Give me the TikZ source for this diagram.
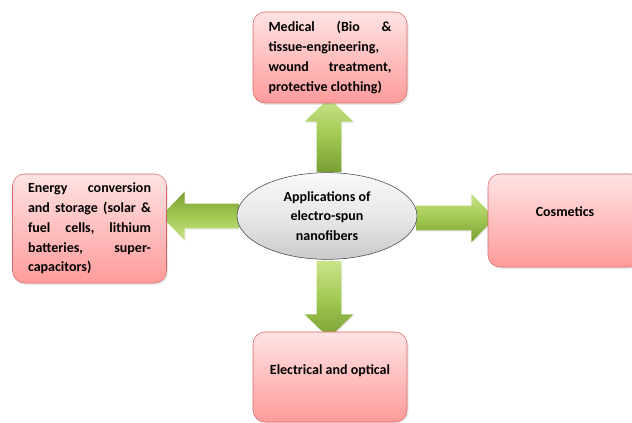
\documentclass[tikz,border=0pt]{standalone}
\usepackage{fontspec}
\setmainfont{Carlito}
\usepackage{xcolor}
\definecolor{pinktop}{HTML}{FFE3E3}
\definecolor{pinkbot}{HTML}{FF9B9B}
\definecolor{pinkline}{HTML}{D66866}
\definecolor{greenlight}{HTML}{C9E48C}
\definecolor{greenmid}{HTML}{A2C952}
\definecolor{greendark}{HTML}{789F33}
\usepackage{tikz}
\usetikzlibrary{shapes.geometric,shapes.arrows,shadows}
\tikzset{
    appbox/.style={
    rectangle,rounded corners=9pt,draw=pinkline,thin,top color=pinktop,bottom color=pinkbot,middle color=pinktop!50!pinkbot,
    minimum width=115.5pt,inner xsep=11.25pt,inner ysep=0pt,
    drop shadow={opacity=0.18,shadow xshift=1.2pt,shadow yshift=-1.5pt}
    },
    hub/.style={
    ellipse,draw=black!75,top color=gray!5,bottom color=gray!42,middle color=gray!18,
    minimum width=135pt,minimum height=65pt,inner sep=0pt,align=center
    },
    bigarrow/.style={
    single arrow,top color=greenlight,bottom color=greendark,middle color=greenmid,
    inner xsep=0pt,inner ysep=9pt,minimum width=0pt,
    single arrow head extend=9pt,single arrow tip angle=92,
    drop shadow={opacity=0.15,shadow xshift=0.8pt,shadow yshift=-1pt}
    },
  txt/.style={font=\fontsize{10.5}{14.8}\selectfont\bfseries},
}

\begin{document}
\begin{tikzpicture}[x=0.75pt,y=-0.75pt]
\useasboundingbox (0,0) rectangle (632,423);
% arrows first, their tails go under the ellipse
  \node[bigarrow,rotate=90,minimum height=55.5pt] (amed) at (329,141) {};
  \node[bigarrow,rotate=-90,minimum height=57.75pt] (aelec) at (329,293.5) {};
  \node[bigarrow,rotate=180,top color=greendark,bottom color=greenlight,middle color=greenmid,minimum height=58.5pt] (aener) at (206,216) {};
  \node[bigarrow,minimum height=59.25pt] (acos) at (449.5,218) {};

  \node[hub,txt] (app) at (327,216) {Applications of\\electro-spun\\nanofibers};

  \node[appbox,txt,align=justify,text width=92.25pt,minimum height=68.25pt] (med) at (330,57.5)
    {Medical~(Bio~\&\linebreak tissue-engineering,\linebreak wound~treatment,\linebreak protective~clothing)};
  \node[appbox,txt,align=justify,text width=92.25pt,minimum height=81.75pt] (ener) at (89.5,228.5)
    {Energy~conversion\linebreak and~storage~(solar~\&\linebreak fuel~cells,~lithium\linebreak batteries,~super-\linebreak capacitors)};
  \node[appbox,txt,minimum height=69.75pt,text height=7pt,text depth=13.6pt] (cos) at (565,220.5) {Cosmetics};
  \node[appbox,txt,minimum height=67.5pt,text height=7pt,text depth=10.6pt] (elec) at (330,377) {Electrical and optical};
\end{tikzpicture}
\end{document}
